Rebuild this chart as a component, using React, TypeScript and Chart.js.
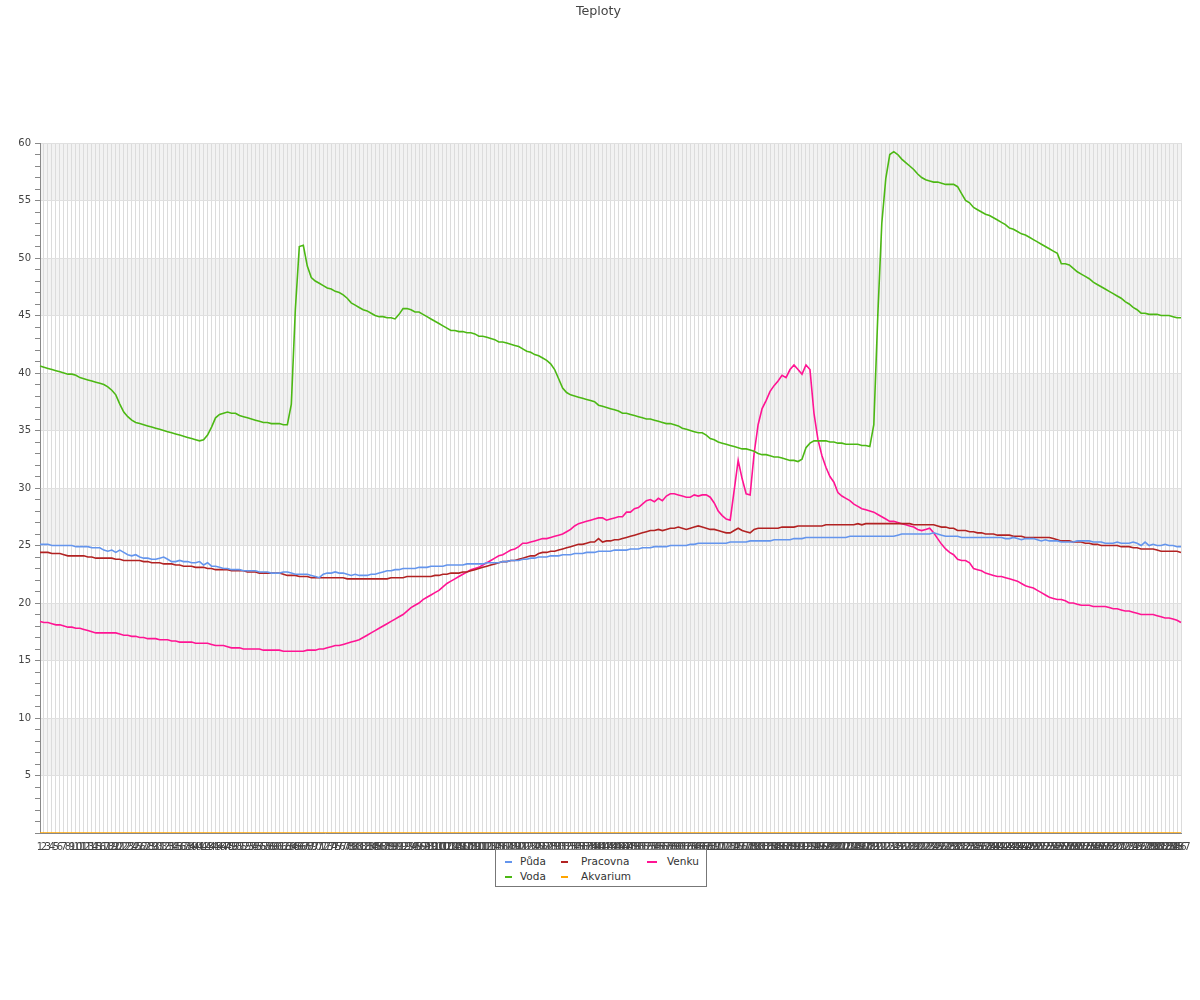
import React, { useEffect, useRef } from 'react';
import { Chart, registerables } from 'chart.js';

Chart.register(...registerables);
Chart.defaults.font.family = "'DejaVu Sans', sans-serif";

const labels: string[] = Array.from({ length: 287 }, (_, i) => String(i + 1));

const puda: number[] = [
  25.1,25.1,25.1,25.0,25.0,25.0,25.0,25.0,25.0,24.9,
  24.9,24.9,24.9,24.8,24.8,24.8,24.6,24.5,24.6,24.4,
  24.6,24.4,24.2,24.1,24.2,24.0,23.9,23.9,23.8,23.8,
  23.9,24.0,23.8,23.6,23.6,23.7,23.6,23.6,23.5,23.5,
  23.6,23.3,23.5,23.2,23.2,23.1,23.0,23.0,22.9,22.9,
  22.9,22.8,22.8,22.8,22.8,22.7,22.7,22.7,22.6,22.6,
  22.6,22.7,22.7,22.6,22.5,22.5,22.5,22.5,22.4,22.3,
  22.2,22.5,22.6,22.6,22.7,22.6,22.6,22.5,22.4,22.5,
  22.4,22.4,22.4,22.5,22.5,22.6,22.7,22.8,22.8,22.9,
  22.9,23.0,23.0,23.0,23.0,23.1,23.1,23.1,23.2,23.2,
  23.2,23.2,23.3,23.3,23.3,23.3,23.3,23.4,23.4,23.4,
  23.4,23.4,23.5,23.5,23.5,23.5,23.6,23.6,23.7,23.7,
  23.7,23.8,23.8,23.9,23.9,24.0,24.0,24.0,24.1,24.1,
  24.1,24.2,24.2,24.2,24.3,24.3,24.3,24.4,24.4,24.4,
  24.5,24.5,24.5,24.5,24.6,24.6,24.6,24.6,24.7,24.7,
  24.7,24.8,24.8,24.8,24.9,24.9,24.9,24.9,25.0,25.0,
  25.0,25.0,25.0,25.1,25.1,25.2,25.2,25.2,25.2,25.2,
  25.2,25.2,25.2,25.3,25.3,25.3,25.3,25.3,25.4,25.4,
  25.4,25.4,25.4,25.4,25.5,25.5,25.5,25.5,25.5,25.6,
  25.6,25.6,25.7,25.7,25.7,25.7,25.7,25.7,25.7,25.7,
  25.7,25.7,25.7,25.8,25.8,25.8,25.8,25.8,25.8,25.8,
  25.8,25.8,25.8,25.8,25.8,25.9,26.0,26.0,26.0,26.0,
  26.0,26.0,26.0,26.0,26.1,26.0,25.9,25.8,25.8,25.8,
  25.8,25.7,25.7,25.7,25.7,25.7,25.7,25.7,25.7,25.7,
  25.7,25.7,25.6,25.6,25.7,25.6,25.5,25.6,25.6,25.6,
  25.5,25.4,25.5,25.4,25.4,25.4,25.3,25.3,25.3,25.3,
  25.4,25.4,25.4,25.4,25.3,25.3,25.3,25.2,25.2,25.2,
  25.3,25.2,25.2,25.2,25.3,25.2,25.0,25.3,25.0,25.1,
  25.0,25.0,25.1,25.0,25.0,24.9,24.9,
];

const voda: number[] = [
  40.6,40.5,40.4,40.3,40.2,40.1,40.0,39.9,39.9,39.8,
  39.6,39.5,39.4,39.3,39.2,39.1,39.0,38.8,38.5,38.1,
  37.3,36.6,36.2,35.9,35.7,35.6,35.5,35.4,35.3,35.2,
  35.1,35.0,34.9,34.8,34.7,34.6,34.5,34.4,34.3,34.2,
  34.1,34.2,34.6,35.3,36.1,36.4,36.5,36.6,36.5,36.5,
  36.3,36.2,36.1,36.0,35.9,35.8,35.7,35.7,35.6,35.6,
  35.6,35.5,35.5,37.3,45.5,51.0,51.1,49.3,48.3,48.0,
  47.8,47.6,47.4,47.3,47.1,47.0,46.8,46.5,46.1,45.9,
  45.7,45.5,45.4,45.2,45.0,44.9,44.9,44.8,44.8,44.7,
  45.1,45.6,45.6,45.5,45.3,45.3,45.1,44.9,44.7,44.5,
  44.3,44.1,43.9,43.7,43.7,43.6,43.6,43.5,43.5,43.4,
  43.2,43.2,43.1,43.0,42.9,42.7,42.7,42.6,42.5,42.4,
  42.3,42.1,41.9,41.8,41.6,41.5,41.3,41.1,40.8,40.3,
  39.5,38.7,38.3,38.1,38.0,37.9,37.8,37.7,37.6,37.5,
  37.2,37.1,37.0,36.9,36.8,36.7,36.5,36.5,36.4,36.3,
  36.2,36.1,36.0,36.0,35.9,35.8,35.7,35.6,35.6,35.5,
  35.4,35.2,35.1,35.0,34.9,34.8,34.8,34.6,34.3,34.2,
  34.0,33.9,33.8,33.7,33.6,33.5,33.4,33.4,33.3,33.2,
  33.0,32.9,32.9,32.8,32.7,32.7,32.6,32.5,32.4,32.4,
  32.3,32.5,33.5,33.9,34.1,34.1,34.1,34.1,34.0,34.0,
  33.9,33.9,33.8,33.8,33.8,33.8,33.7,33.7,33.6,35.5,
  45.0,53.0,56.9,59.0,59.25,59.0,58.6,58.3,58.0,57.7,
  57.3,57.0,56.8,56.7,56.6,56.6,56.5,56.4,56.4,56.4,
  56.2,55.6,55.0,54.8,54.4,54.2,54.0,53.8,53.7,53.5,
  53.3,53.1,52.9,52.6,52.5,52.3,52.1,52.0,51.8,51.6,
  51.4,51.2,51.0,50.8,50.6,50.4,49.5,49.5,49.4,49.1,
  48.8,48.6,48.4,48.2,47.9,47.7,47.5,47.3,47.1,46.9,
  46.7,46.5,46.2,46.0,45.7,45.5,45.2,45.2,45.1,45.1,
  45.1,45.0,45.0,45.0,44.9,44.8,44.8,
];

const pracovna: number[] = [
  24.4,24.4,24.4,24.3,24.3,24.3,24.2,24.1,24.1,24.1,
  24.1,24.1,24.0,24.0,23.9,23.9,23.9,23.9,23.9,23.8,
  23.8,23.7,23.7,23.7,23.7,23.7,23.6,23.6,23.5,23.5,
  23.5,23.4,23.4,23.4,23.3,23.3,23.2,23.2,23.2,23.1,
  23.1,23.1,23.0,23.0,22.9,22.9,22.9,22.9,22.8,22.8,
  22.8,22.8,22.7,22.7,22.7,22.6,22.6,22.6,22.6,22.6,
  22.6,22.5,22.4,22.4,22.4,22.3,22.3,22.3,22.2,22.2,
  22.2,22.2,22.2,22.2,22.2,22.2,22.2,22.1,22.1,22.1,
  22.1,22.1,22.1,22.1,22.1,22.1,22.1,22.1,22.2,22.2,
  22.2,22.2,22.3,22.3,22.3,22.3,22.3,22.3,22.3,22.4,
  22.4,22.5,22.5,22.6,22.6,22.6,22.7,22.7,22.8,22.9,
  23.0,23.1,23.2,23.3,23.4,23.5,23.6,23.6,23.7,23.7,
  23.8,23.9,24.0,24.1,24.1,24.3,24.4,24.4,24.5,24.5,
  24.6,24.7,24.8,24.9,25.0,25.1,25.1,25.2,25.3,25.3,
  25.6,25.3,25.4,25.4,25.5,25.5,25.6,25.7,25.8,25.9,
  26.0,26.1,26.2,26.3,26.3,26.4,26.3,26.4,26.5,26.5,
  26.6,26.5,26.4,26.5,26.6,26.7,26.6,26.5,26.4,26.4,
  26.3,26.2,26.1,26.1,26.3,26.5,26.3,26.2,26.1,26.4,
  26.5,26.5,26.5,26.5,26.5,26.5,26.6,26.6,26.6,26.6,
  26.7,26.7,26.7,26.7,26.7,26.7,26.7,26.8,26.8,26.8,
  26.8,26.8,26.8,26.8,26.8,26.9,26.8,26.9,26.9,26.9,
  26.9,26.9,26.9,26.9,26.9,26.9,26.9,26.9,26.9,26.8,
  26.8,26.8,26.8,26.8,26.8,26.7,26.6,26.6,26.5,26.5,
  26.3,26.3,26.3,26.2,26.2,26.1,26.1,26.0,26.0,26.0,
  25.9,25.9,25.9,25.9,25.8,25.8,25.8,25.7,25.7,25.7,
  25.7,25.7,25.7,25.7,25.6,25.5,25.4,25.4,25.4,25.3,
  25.3,25.3,25.2,25.2,25.1,25.1,25.0,25.0,25.0,25.0,
  25.0,24.9,24.9,24.9,24.8,24.8,24.7,24.7,24.7,24.7,
  24.6,24.5,24.5,24.5,24.5,24.5,24.4,
];

const akvarium: number[] = [
  0,0,0,0,0,0,0,0,0,0, 0,0,0,0,0,0,0,0,0,0, 0,0,0,0,0,0,0,0,0,0,
  0,0,0,0,0,0,0,0,0,0, 0,0,0,0,0,0,0,0,0,0, 0,0,0,0,0,0,0,0,0,0,
  0,0,0,0,0,0,0,0,0,0, 0,0,0,0,0,0,0,0,0,0, 0,0,0,0,0,0,0,0,0,0,
  0,0,0,0,0,0,0,0,0,0, 0,0,0,0,0,0,0,0,0,0, 0,0,0,0,0,0,0,0,0,0,
  0,0,0,0,0,0,0,0,0,0, 0,0,0,0,0,0,0,0,0,0, 0,0,0,0,0,0,0,0,0,0,
  0,0,0,0,0,0,0,0,0,0, 0,0,0,0,0,0,0,0,0,0, 0,0,0,0,0,0,0,0,0,0,
  0,0,0,0,0,0,0,0,0,0, 0,0,0,0,0,0,0,0,0,0, 0,0,0,0,0,0,0,0,0,0,
  0,0,0,0,0,0,0,0,0,0, 0,0,0,0,0,0,0,0,0,0, 0,0,0,0,0,0,0,0,0,0,
  0,0,0,0,0,0,0,0,0,0, 0,0,0,0,0,0,0,0,0,0, 0,0,0,0,0,0,0,0,0,0,
  0,0,0,0,0,0,0,0,0,0, 0,0,0,0,0,0,0,
];

const venku: number[] = [
  18.4,18.3,18.3,18.2,18.1,18.1,18.0,17.9,17.9,17.8,
  17.8,17.7,17.6,17.5,17.4,17.4,17.4,17.4,17.4,17.4,
  17.3,17.2,17.2,17.1,17.1,17.0,17.0,16.9,16.9,16.9,
  16.8,16.8,16.8,16.7,16.7,16.6,16.6,16.6,16.6,16.5,
  16.5,16.5,16.5,16.4,16.3,16.3,16.3,16.2,16.1,16.1,
  16.1,16.0,16.0,16.0,16.0,16.0,15.9,15.9,15.9,15.9,
  15.9,15.8,15.8,15.8,15.8,15.8,15.8,15.9,15.9,15.9,
  16.0,16.0,16.1,16.2,16.3,16.3,16.4,16.5,16.6,16.7,
  16.8,17.0,17.2,17.4,17.6,17.8,18.0,18.2,18.4,18.6,
  18.8,19.0,19.3,19.6,19.8,20.0,20.3,20.5,20.7,20.9,
  21.1,21.4,21.7,21.9,22.1,22.3,22.5,22.7,22.9,23.0,
  23.1,23.3,23.5,23.7,23.9,24.1,24.2,24.4,24.6,24.7,
  24.9,25.2,25.2,25.3,25.4,25.5,25.6,25.6,25.7,25.8,
  25.9,26.0,26.2,26.4,26.7,26.9,27.0,27.1,27.2,27.3,
  27.4,27.4,27.2,27.3,27.4,27.5,27.5,27.9,27.9,28.2,
  28.3,28.6,28.9,29.0,28.8,29.1,28.9,29.3,29.5,29.5,
  29.4,29.3,29.2,29.2,29.4,29.3,29.4,29.4,29.2,28.7,
  28.0,27.6,27.3,27.2,29.8,32.4,30.8,29.5,29.4,33.0,
  35.5,36.9,37.6,38.4,38.9,39.3,39.8,39.6,40.3,40.7,
  40.3,39.9,40.7,40.3,36.5,34.2,32.8,31.8,31.0,30.5,
  29.6,29.3,29.1,28.9,28.6,28.4,28.2,28.1,28.0,27.9,
  27.7,27.5,27.3,27.1,27.1,27.0,26.9,26.8,26.7,26.6,
  26.4,26.3,26.4,26.5,26.1,25.6,25.1,24.7,24.4,24.2,
  23.8,23.7,23.7,23.5,23.0,22.9,22.8,22.6,22.5,22.4,
  22.3,22.3,22.2,22.1,22.0,21.9,21.7,21.5,21.4,21.3,
  21.1,20.9,20.7,20.5,20.4,20.3,20.3,20.2,20.0,20.0,
  19.9,19.8,19.8,19.8,19.7,19.7,19.7,19.7,19.6,19.5,
  19.5,19.4,19.3,19.3,19.2,19.1,19.0,19.0,19.0,19.0,
  18.9,18.8,18.7,18.7,18.6,18.5,18.3,
];

const seriesNames = ['Půda', 'Voda', 'Pracovna', 'Akvarium', 'Venku'];
const seriesColors = ['#6495ed', '#4cb814', '#b22222', '#ffa500', '#ff1493'];
const seriesData = [puda, voda, pracovna, akvarium, venku];

const bands: [number, number][] = [[5, 10], [15, 20], [25, 30], [35, 40], [45, 50], [55, 60]];

const bandPlugin = {
  id: 'bands',
  beforeDraw(chart: any) {
    const { ctx, chartArea, scales } = chart;
    const y = scales.y;
    ctx.save();
    ctx.fillStyle = '#f2f2f2';
    for (const [lo, hi] of bands) {
      const top = y.getPixelForValue(hi);
      const bottom = y.getPixelForValue(lo);
      ctx.fillRect(chartArea.left, top, chartArea.right - chartArea.left, bottom - top);
    }
    ctx.restore();
  },
};

const legendItems = [
  { name: 'Půda', color: '#6495ed', left: 505, top: 855, sw: 7, tx: 520 },
  { name: 'Pracovna', color: '#b22222', left: 561, top: 855, sw: 7, tx: 581 },
  { name: 'Venku', color: '#ff1493', left: 647, top: 855, sw: 10, tx: 667 },
  { name: 'Voda', color: '#4cb814', left: 505, top: 870, sw: 7, tx: 520 },
  { name: 'Akvarium', color: '#ffa500', left: 561, top: 870, sw: 7, tx: 581 },
];

export default function App() {
  const canvasRef = useRef<HTMLCanvasElement | null>(null);

  useEffect(() => {
    if (!canvasRef.current) return;
    const chart = new Chart(canvasRef.current, {
      type: 'line',
      data: {
        labels,
        datasets: seriesNames.map((name, i) => ({
          label: name,
          data: seriesData[i],
          borderColor: seriesColors[i],
          backgroundColor: seriesColors[i],
          borderWidth: 1.6,
          pointRadius: 0,
          tension: 0,
          fill: false,
        })),
      },
      options: {
        responsive: false,
        animation: false,
        layout: { padding: { left: 0, right: 19, top: 143, bottom: 147 } },
        plugins: {
          legend: { display: false },
          tooltip: { enabled: false },
          title: { display: false },
        },
        scales: {
          x: {
            grid: { color: '#dcdcdc', drawTicks: false, lineWidth: 1 },
            border: { display: true, color: '#888' },
            ticks: {
              autoSkip: false,
              maxRotation: 0,
              minRotation: 0,
              padding: 8,
              color: '#444',
              font: { size: 10 },
            },
            afterFit: (s: any) => { s.height = 20; },
          },
          y: {
            min: 0,
            max: 60,
            ticks: {
              stepSize: 1,
              autoSkip: false,
              padding: 4,
              color: '#444',
              font: { size: 10 },
              callback: (v: any) => (Number(v) % 5 === 0 && Number(v) !== 0 ? String(v) : ''),
            },
            grid: {
              color: (ctx: any) => (ctx.tick && ctx.tick.value % 5 === 0 ? '#e0e0e0' : 'rgba(0,0,0,0)'),
              tickColor: '#888',
              tickLength: 5,
              drawTicks: true,
            },
            border: { display: true, color: '#888' },
            afterFit: (s: any) => { s.width = 40; },
          },
        },
      } as any,
      plugins: [bandPlugin],
    });
    return () => chart.destroy();
  }, []);

  return (
    <div style={{ position: 'absolute', left: 0, top: 0, width: 1200, height: 1000, background: '#fff' }}>
      <canvas ref={canvasRef} width={1200} height={1000} style={{ display: 'block' }} />
      <div
        style={{
          position: 'absolute',
          left: 0,
          top: 3,
          width: 1197,
          textAlign: 'center',
          fontFamily: "'DejaVu Sans', sans-serif",
          fontSize: 12.7,
          lineHeight: '16px',
          color: '#444',
        }}
      >
        Teploty
      </div>
      <div
        style={{
          position: 'absolute',
          left: 495,
          top: 849,
          width: 210,
          height: 36,
          border: '1px solid #777',
          background: '#fff',
        }}
      />
      {legendItems.map((it) => (
        <React.Fragment key={it.name}>
          <div
            style={{
              position: 'absolute',
              left: it.left,
              top: it.top + 6,
              width: it.sw,
              height: 2,
              background: it.color,
            }}
          />
          <div
            style={{
              position: 'absolute',
              left: it.tx,
              top: it.top,
              fontFamily: "'DejaVu Sans', sans-serif",
              fontSize: 10.5,
              lineHeight: '13px',
              color: '#333',
              whiteSpace: 'nowrap',
            }}
          >
            {it.name}
          </div>
        </React.Fragment>
      ))}
    </div>
  );
}
